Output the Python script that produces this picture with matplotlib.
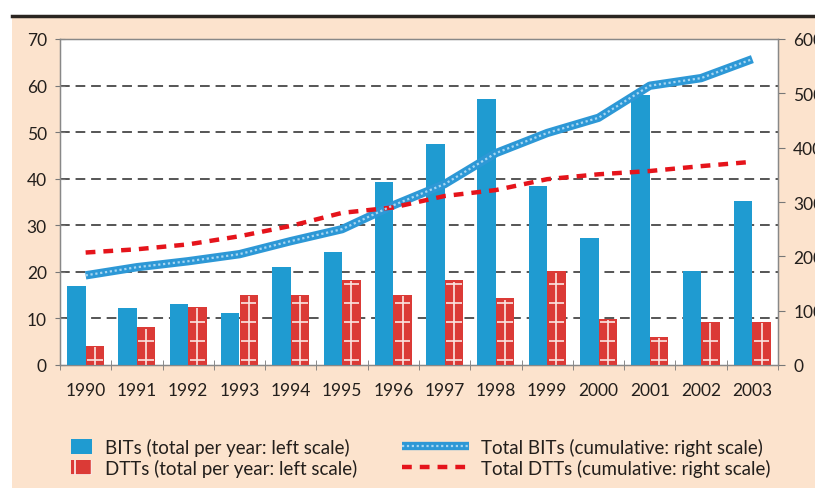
import numpy as np
import matplotlib.pyplot as plt
from matplotlib.patches import Rectangle, Patch
from matplotlib.lines import Line2D
from matplotlib.legend_handler import HandlerTuple

plt.rcParams['font.family'] = ['Lato', 'DejaVu Sans']
plt.rcParams['hatch.linewidth'] = 1.3

# =========================
# data
# =========================
years = ['1990', '1991', '1992', '1993', '1994', '1995', '1996',
         '1997', '1998', '1999', '2000', '2001', '2002', '2003']
bits_year = [17.0, 12.3, 13.2, 11.2, 21.0, 24.3, 39.2,
             47.5, 57.2, 38.4, 27.3, 58.0, 20.1, 35.3]
dtts_year = [4.1, 8.1, 12.5, 15.1, 15.1, 18.3, 15.1,
             18.2, 14.3, 20.1, 9.9, 6.1, 9.3, 9.3]
bits_total = [165, 180, 191, 204, 228, 250, 294,
              333, 390, 427, 455, 514, 528, 563]
dtts_total = [207, 213, 222, 237, 256, 280, 290,
              311, 322, 342, 351, 357, 366, 374]

left_ticks = [0, 10, 20, 30, 40, 50, 60, 70]
right_ticks = [0, 100, 200, 300, 400, 500, 600]

blue = '#1f9bd1'
red = '#db3a36'
peach = '#fce3cd'
txt = '#231f1c'

# =========================
# figure
# =========================
fig = plt.figure(figsize=(8.15, 4.89), dpi=100)
fig.patch.set_facecolor('white')
fig.patches.append(Rectangle((12 / 815, 0), 1, 1 - 17 / 489, transform=fig.transFigure,
                             facecolor=peach, edgecolor='none', zorder=-10))
fig.add_artist(Line2D([12 / 815, 1], [1 - 17 / 489] * 2, transform=fig.transFigure,
                      color='#2b2520', lw=2.5))

ax = fig.add_axes([60 / 815, 1 - 366 / 489, 718 / 815, 326 / 489])
ax.set_facecolor('white')
ax2 = ax.twinx()

x = np.arange(len(years))
w = 0.36
ax.bar(x - w / 2, bits_year, w, color=blue, zorder=3)
ax.bar(x + w / 2, dtts_year, w, color=red, zorder=3)

# white cross pattern on the DTT bars
ax.vlines(x + w / 2, 0, np.array(dtts_year) - 0.3, color='#fbe6e2', lw=1.2, zorder=4)
for xi, v in zip(x, dtts_year):
    levels = np.arange(1.0, v - 0.4, 4.1)
    ax.hlines(levels, xi + 0.03, xi + w - 0.03, color='#fbe6e2', lw=1.2, zorder=4)

ax.set_xlim(-0.5, len(years) - 0.5)
ax.set_ylim(0, 70)
ax.set_yticks(left_ticks)
ax.set_xticks(x)
ax.set_xticklabels(years)
ax.set_xticks(np.arange(len(years) + 1) - 0.5, minor=True)
ax.tick_params(axis='x', which='major', length=0, pad=12, labelsize=12.5, labelcolor=txt)
ax.tick_params(axis='x', which='minor', length=7, direction='inout', color='#777777')
ax.tick_params(axis='y', length=7, direction='inout', pad=6, labelsize=12.5,
               labelcolor=txt, color='#777777')
for v in left_ticks[1:-1]:
    ax.axhline(v, color='#555555', lw=1.4, dashes=(5, 3), zorder=1)

for s in ['left', 'bottom', 'top', 'right']:
    ax.spines[s].set_color('#888888')
    ax.spines[s].set_linewidth(1.0)

# lines on right scale
ax2.set_ylim(0, 600)
ax2.set_yticks(right_ticks)
ax2.tick_params(axis='y', length=5, direction='out', pad=6, labelsize=12.5,
                labelcolor=txt, color='#777777')
for s in ['left', 'bottom', 'top', 'right']:
    ax2.spines[s].set_color('#888888')
ax2.plot(x, bits_total, color='#2d98d6', lw=6, solid_capstyle='butt', zorder=5)
ax2.plot(x, bits_total, color='#a6d6f2', lw=1.6, dashes=(1, 1.2), zorder=6)
ax2.plot(x, dtts_total, color='#e5141b', lw=3.2, dashes=(2.2, 1.8), zorder=5)

# =========================
# legend
# =========================
h_bit = Patch(facecolor=blue)
h_dtt = Patch(facecolor=red, edgecolor='#fbe6e2', linewidth=0, hatch='+')
h_tb = (Line2D([], [], color='#2d98d6', lw=6, solid_capstyle='butt'),
        Line2D([], [], color='#a6d6f2', lw=1.6, dashes=(1, 1.2)))
h_td = Line2D([], [], color='#e5141b', lw=3.2, dashes=(2.2, 1.8))

leg1 = fig.legend([h_bit, h_dtt],
                  ['BITs (total per year: left scale)', 'DTTs (total per year: left scale)'],
                  loc='upper left', bbox_to_anchor=(54 / 815, 1 - 422 / 489), frameon=False,
                  fontsize=13.5, handlelength=1.1, handleheight=0.9, handletextpad=0.7,
                  labelspacing=0.15)
leg2 = fig.legend([h_tb, h_td],
                  ['Total BITs (cumulative: right scale)', 'Total DTTs (cumulative: right scale)'],
                  loc='upper left', bbox_to_anchor=(385 / 815, 1 - 422 / 489), frameon=False,
                  fontsize=13.5, handlelength=3.6, handletextpad=0.6, labelspacing=0.15,
                  handler_map={tuple: HandlerTuple(ndivide=1, pad=0)})
for t in leg1.get_texts() + leg2.get_texts():
    t.set_color(txt)

fig.savefig('out.png', dpi=100)
